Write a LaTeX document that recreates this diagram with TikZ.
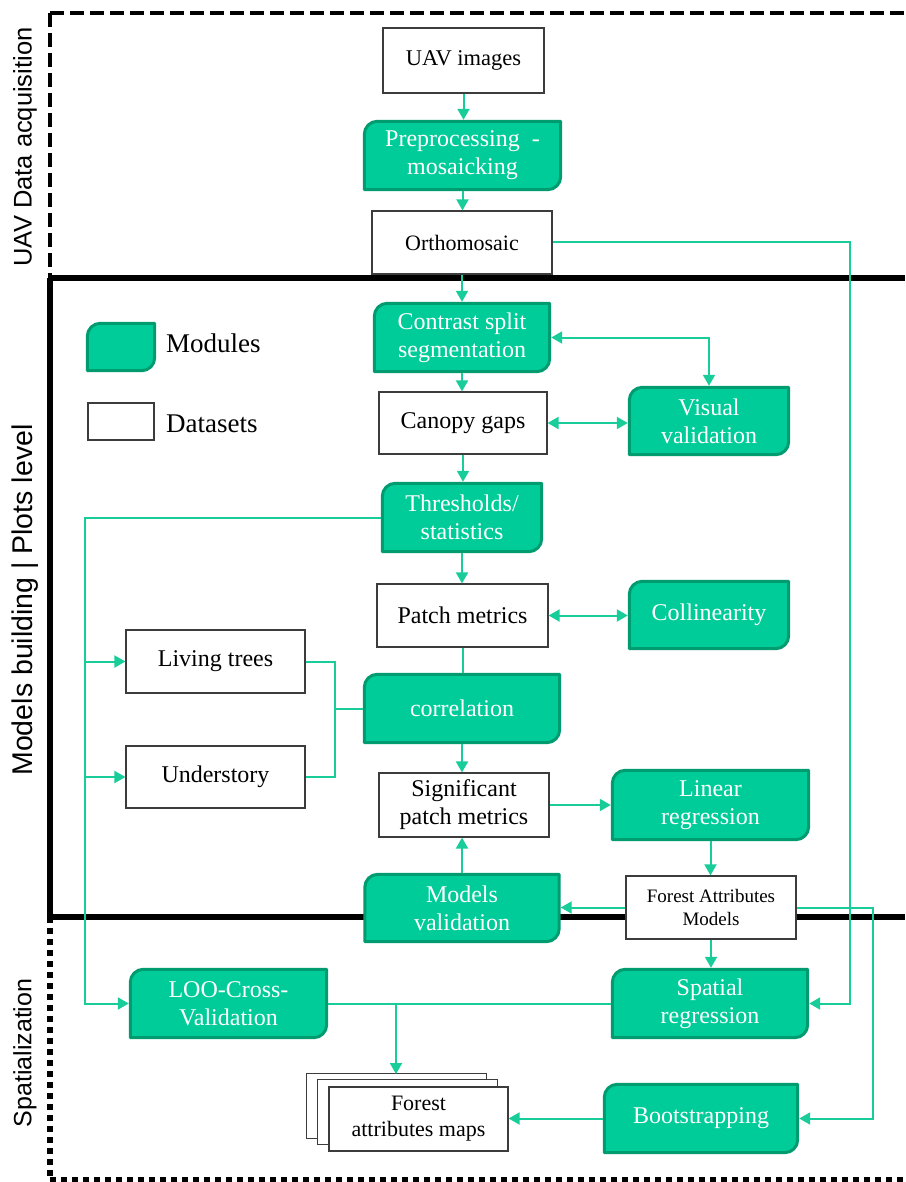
\documentclass[tikz,border=0pt]{standalone}
\usepackage{fontspec}
\setmainfont{Liberation Serif}
\newfontfamily\labfont{Liberation Sans}
\usetikzlibrary{arrows.meta,calc}
\pgfdeclarelayer{framelayer}
\pgfdeclarelayer{modlayer}
\pgfsetlayers{framelayer,modlayer,main}
\definecolor{modgreen}{RGB}{0,204,153}
\definecolor{modedge}{RGB}{0,155,110}
\definecolor{linkgreen}{RGB}{24,205,154}
\definecolor{dsedge}{RGB}{60,60,60}
\tikzset{
  every node/.style={inner sep=0pt, align=center},
  dataset/.style={draw=dsedge, line width=1.2pt, fill=white, text=black, font=\fontsize{24}{28}\selectfont},
  module/.style={text=white, font=\fontsize{24}{28}\selectfont},
  modshape/.style={fill=modgreen, draw=modedge, line width=3pt, line join=round},
  link/.style={draw=linkgreen, line width=2pt},
  arr/.style={link, -{Triangle[length=11pt,width=12pt]}},
  darr/.style={link, {Triangle[length=11pt,width=12pt]}-{Triangle[length=11pt,width=12pt]}},
  sidelabel/.style={rotate=90, text=black},
  framesolid/.style={line width=5.5pt, line join=miter},
}
\newcommand\modshape[1]{%
  \begin{pgfonlayer}{modlayer}
  \path[modshape] let \p1=([shift={(1.5pt,-1.5pt)}]#1.north west), \p2=([shift={(-1.5pt,1.5pt)}]#1.south east) in
    (\x1,\y2) -- (\x1,{\y1-13pt}) .. controls (\x1,{\y1-5.8pt}) and ({\x1+5.8pt},\y1) .. ({\x1+13pt},\y1) -- (\x2,\y1)
    -- (\x2,{\y2+13pt}) .. controls (\x2,{\y2+5.8pt}) and ({\x2-5.8pt},\y2) .. ({\x2-13pt},\y2) -- cycle;
  \end{pgfonlayer}}
\begin{document}
\begin{tikzpicture}[x=1pt,y=-1pt]
\useasboundingbox (0,0) rectangle (905,1182);
% ---------- frame ----------
\begin{pgfonlayer}{framelayer}
\draw[line width=4.5pt, dash pattern=on 14pt off 6pt] (50,13) -- (905,13);
\draw[line width=4.5pt, dash pattern=on 14pt off 6pt] (50,13) -- (50,278);
\draw[framesolid] (50,278) -- (905,278);
\draw[framesolid] (50,278) -- (50,917) -- (905,917);
\draw[line width=5.5pt, dash pattern=on 6pt off 5pt] (50,917) -- (50,1179.5);
\draw[line width=5.5pt, dash pattern=on 6pt off 5pt] (50,1179.5) -- (905,1179.5);
\end{pgfonlayer}
% ---------- side labels ----------
\node[sidelabel, font=\labfont\fontsize{25.5}{30}\selectfont] (labA) at (25,147) {UAV Data acquisition};
\node[sidelabel, font=\labfont\fontsize{28.5}{32}\selectfont] (labB) at (25,600) {Models building | Plots level};
\node[sidelabel, font=\labfont\fontsize{25}{30}\selectfont] (labC) at (25,1053) {Spatialization};
% ---------- legend ----------
\node[module, minimum width=70pt, minimum height=50pt] (legm) at (121,347) {};
\modshape{legm}
\node[dataset, minimum width=66pt, minimum height=37pt] (legd) at (121,421.5) {};
\node[anchor=base west, font=\fontsize{27}{30}\selectfont] (legmt) at (166,352) {Modules};
\node[anchor=base west, font=\fontsize{27}{30}\selectfont] (legdt) at (166,432) {Datasets};
% ---------- nodes ----------
\node[dataset, minimum width=161pt, minimum height=65pt, font=\fontsize{22.5}{27}\selectfont] (uav) at (463.5,60.5) {UAV images};
\node[module, minimum width=199pt, minimum height=71pt] (pre) at (462.5,155.5) {Preprocessing\ \ -\\mosaicking};
\modshape{pre}
\node[dataset, minimum width=180pt, minimum height=63pt, font=\fontsize{22}{26}\selectfont] (ortho) at (462,242.5) {Orthomosaic};
\node[module, minimum width=178pt, minimum height=71pt] (cont) at (462,337.5) {Contrast split\\segmentation};
\modshape{cont}
\node[dataset, minimum width=168pt, minimum height=62pt] (can) at (463,423) {Canopy gaps};
\node[module, minimum width=162pt, minimum height=70pt] (vis) at (709,421) {Visual\\validation};
\modshape{vis}
\node[module, minimum width=162pt, minimum height=71pt] (thr) at (462,517.5) {Thresholds/\\statistics};
\modshape{thr}
\node[dataset, minimum width=171pt, minimum height=63pt] (patch) at (462.5,615.5) {Patch metrics};
\node[module, minimum width=162pt, minimum height=70pt] (coll) at (709,615) {Collinearity};
\modshape{coll}
\node[dataset, minimum width=179pt, minimum height=63pt] (liv) at (215.5,661.5) {Living trees};
\node[dataset, minimum width=179pt, minimum height=62pt] (und) at (215.5,777) {Understory};
\node[module, minimum width=198pt, minimum height=71pt] (corr) at (462,708.5) {correlation};
\modshape{corr}
\node[dataset, minimum width=170pt, minimum height=64pt] (sig) at (464,805) {Significant\\patch metrics};
\node[module, minimum width=199pt, minimum height=72pt] (lin) at (710.5,805) {Linear\\regression};
\modshape{lin}
\node[module, minimum width=197pt, minimum height=70pt] (mv) at (462,908) {Models\\validation};
\modshape{mv}
\node[dataset, minimum width=170pt, minimum height=63pt, font=\fontsize{19}{23}\selectfont] (fam) at (711,907.5) {Forest Attributes\\Models};
\node[module, minimum width=199pt, minimum height=71pt] (loo) at (228.5,1003.5) {LOO-Cross-\\Validation};
\modshape{loo}
\node[module, minimum width=198pt, minimum height=71pt] (spat) at (710,1003.5) {Spatial\\regression};
\modshape{spat}
\node[dataset, minimum width=179pt, minimum height=64pt, font=\fontsize{22}{26}\selectfont] (maps) at (418.5,1119) {Forest\\attributes maps};
\begin{pgfonlayer}{modlayer}
\draw[dataset] ([shift={(-22pt,13pt)}]maps.north west) rectangle ([shift={(-22pt,13pt)}]maps.south east);
\draw[dataset] ([shift={(-11pt,7pt)}]maps.north west) rectangle ([shift={(-11pt,7pt)}]maps.south east);
\end{pgfonlayer}
\node[module, minimum width=196pt, minimum height=71pt] (boot) at (701,1118.5) {Bootstrapping};
\modshape{boot}
% ---------- helper coordinates ----------
\coordinate (c1) at (850,242.5);
\coordinate (c2) at (85,517.5);
\coordinate (c3) at (335,708.5);
\coordinate (c4) at (873,907.5);
\coordinate (c5) at (396,1003.5);
\coordinate (c6) at (396,1074);
% ---------- connectors ----------
\draw[arr] (uav.south) -- (uav.south |- pre.north);
\draw[arr] (pre.south) -- (pre.south |- ortho.north);
\draw[arr] (ortho.south) -- (ortho.south |- cont.north);
\draw[arr] (ortho.east) -- (c1) |- (spat.east);
\draw[darr] (cont.east) -| (vis.north);
\draw[arr] (cont.south) -- (cont.south |- can.north);
\draw[darr] (can.east) -- (can.east -| vis.west);
\draw[arr] (can.south) -- (can.south |- thr.north);
\draw[arr] (thr.south) -- (thr.south |- patch.north);
\draw[arr] (thr.west) -- (c2) |- (loo.west);
\draw[arr] (c2 |- liv.west) -- (liv.west);
\draw[arr] (c2 |- und.west) -- (und.west);
\draw[darr] (patch.east) -- (patch.east -| coll.west);
\draw[link] (patch.south) -- (patch.south |- corr.north);
\draw[link] (liv.east) -| (c3) |- (und.east);
\draw[link] (c3) -- (corr.west);
\draw[arr] (corr.south) -- (corr.south |- sig.north);
\draw[arr] (sig.east) -- (sig.east -| lin.west);
\draw[arr] (lin.south) -- (lin.south |- fam.north);
\draw[arr] (fam.west) -- (fam.west -| mv.east);
\draw[arr] (mv.north) -- (mv.north |- sig.south);
\draw[arr] (fam.south) -- (fam.south |- spat.north);
\draw[arr] (fam.east) -- (c4) |- (boot.east);
\draw[link] (loo.east) -- (spat.west);
\draw[arr] (c5) -- (c6);
\draw[arr] (boot.west) -- (boot.west -| maps.east);
\end{tikzpicture}
\end{document}
